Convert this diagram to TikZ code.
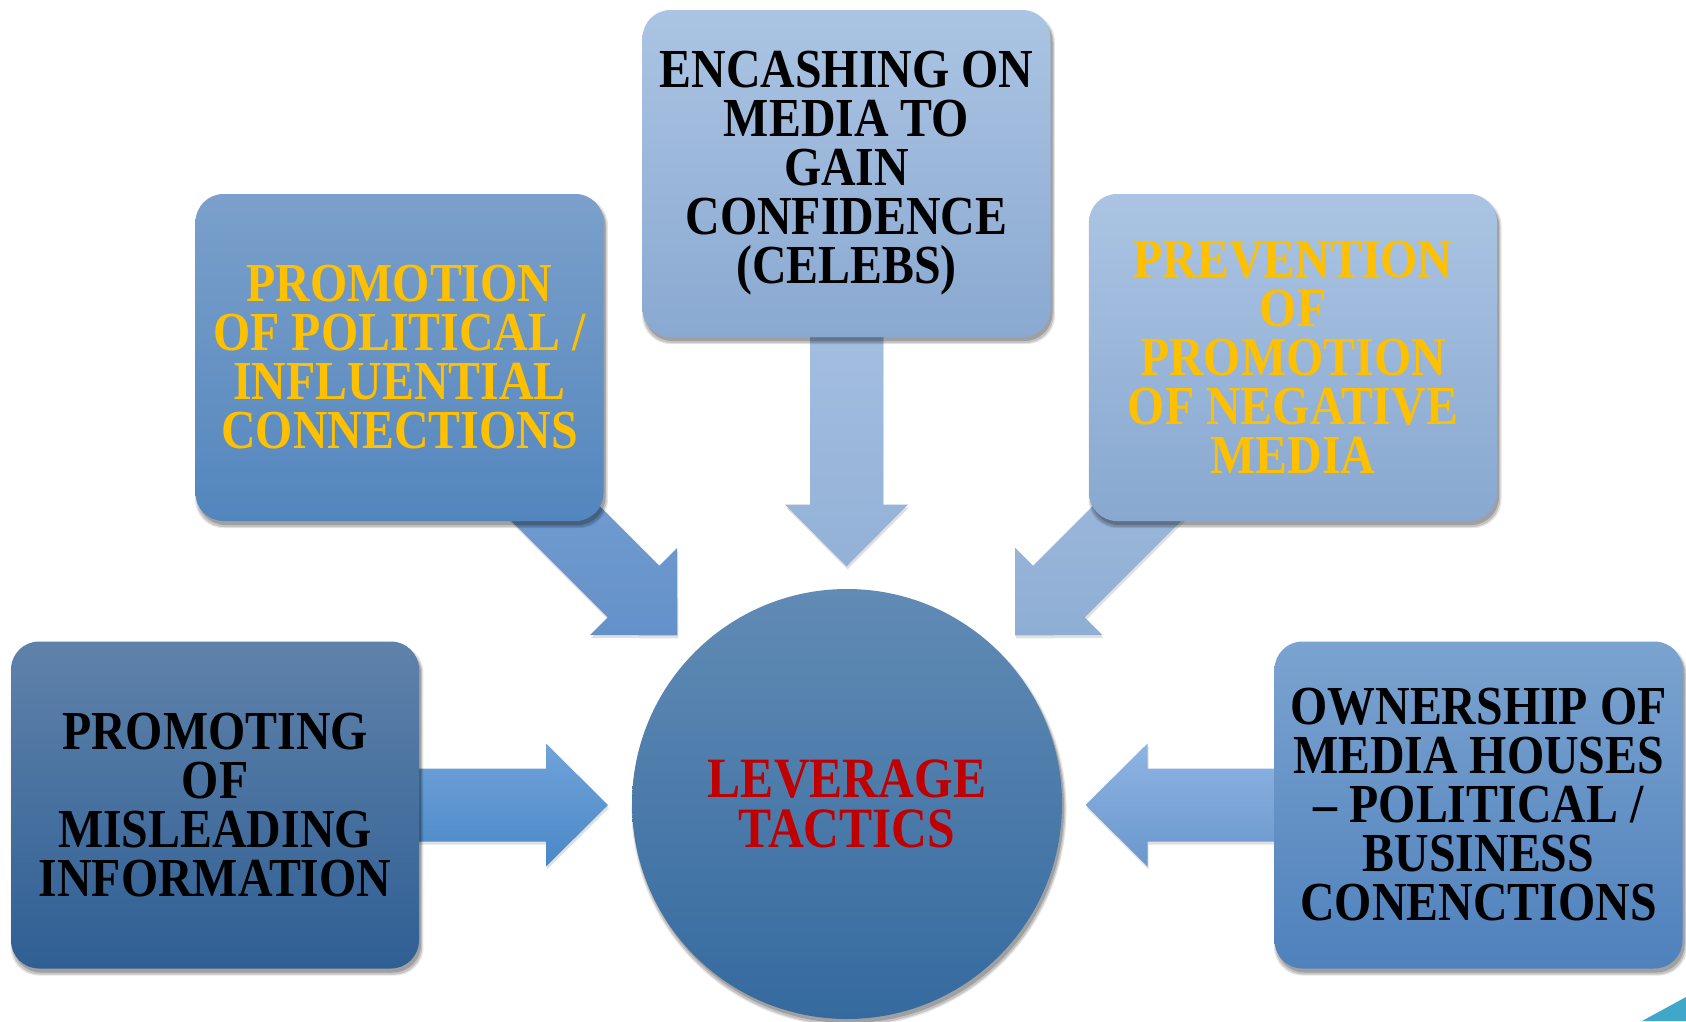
\documentclass[tikz,border=0pt]{standalone}
\usepackage{fontspec}
\newfontfamily\tnr{Liberation Serif}[FakeStretch=0.87]
\usetikzlibrary{shadows}
\pgfdeclarelayer{bg}
\pgfdeclarelayer{back}
\pgfsetlayers{bg,back,main}
\definecolor{gold}{HTML}{FFC000}
\definecolor{darkred}{HTML}{C00000}
\definecolor{teal1}{HTML}{3FA7C9}
\definecolor{lTop}{HTML}{5F82AA}\definecolor{lBot}{HTML}{2F5F94}
\definecolor{tlTop}{HTML}{7BA0CB}\definecolor{tlBot}{HTML}{5386BD}
\definecolor{tcTop}{HTML}{ABC4E3}\definecolor{tcBot}{HTML}{8AA9D1}
\definecolor{trTop}{HTML}{ABC4E3}\definecolor{trBot}{HTML}{88A8D0}
\definecolor{rTop}{HTML}{7BA3D0}\definecolor{rBot}{HTML}{4F81BC}
\definecolor{cTop}{HTML}{618BB5}\definecolor{cBot}{HTML}{356A9F}
\definecolor{aLTop}{HTML}{70A3D8}\definecolor{aLBot}{HTML}{4A88C8}
\definecolor{aRTop}{HTML}{8EB4E2}\definecolor{aRBot}{HTML}{6A97CE}
\definecolor{aTCTop}{HTML}{ADC6E6}\definecolor{aTCBot}{HTML}{93B1D7}
\definecolor{aTLTop}{HTML}{7DA8D8}\definecolor{aTLBot}{HTML}{6491C9}
\definecolor{aTRTop}{HTML}{A8C1E2}\definecolor{aTRBot}{HTML}{8FAED4}
\newcommand\myarrow[4]{%
  \begin{scope}[shift={(#1.center)}, rotate=#2]
    \path[top color=#3, bottom color=#4, arrowshadow]
      (0,-36.5) -- (331,-36.5) -- (331,-61.5) -- (393,0) -- (331,61.5) -- (331,36.5) -- (0,36.5) -- cycle;
  \end{scope}}
\begin{document}
\begin{tikzpicture}[x=1pt,y=-1pt,
  softshadow/.style={
    general shadow={shadow xshift=2pt, shadow yshift=-5pt, shadow scale=1.012, fill=black, opacity=0.10},
    general shadow={shadow xshift=2pt, shadow yshift=-5pt, shadow scale=1.006, fill=black, opacity=0.14},
    general shadow={shadow xshift=2pt, shadow yshift=-4pt, fill=black, opacity=0.18}},
  box/.style={rounded corners=28pt, minimum width=408pt, minimum height=327pt,
    inner sep=0pt, align=center, font=\tnr\bfseries\fontsize{55}{49}\selectfont, softshadow},
  hub/.style={circle, minimum size=430pt, inner sep=0pt, align=center,
    font=\tnr\bfseries\fontsize{57}{50}\selectfont, softshadow},
  arrowshadow/.style={
    general shadow={shadow xshift=1pt, shadow yshift=-3pt, fill=black, opacity=0.12}}
]
\useasboundingbox (0,0) rectangle (1686,1021);
\begin{pgfonlayer}{bg}
  \fill[white] (0,0) rectangle (1686,1021);
\end{pgfonlayer}

\node[box, top color=lTop, bottom color=lBot, text=black] (L) at (215,805)
  {PROMOTING\\OF\\MISLEADING\\INFORMATION};
\node[box, top color=tlTop, bottom color=tlBot, text=gold] (TL) at (399.5,357.5)
  {PROMOTION\\OF POLITICAL /\\INFLUENTIAL\\CONNECTIONS};
\node[box, top color=tcTop, bottom color=tcBot, text=black] (TC) at (846.5,173.5)
  {ENCASHING ON\\MEDIA TO\\GAIN\\CONFIDENCE\\(CELEBS)};
\node[box, top color=trTop, bottom color=trBot, text=gold] (TR) at (1293,357.5)
  {PREVENTION\\OF\\PROMOTION\\OF NEGATIVE\\MEDIA};
\node[box, top color=rTop, bottom color=rBot, text=black] (R) at (1478.5,805)
  {OWNERSHIP OF\\MEDIA HOUSES\\– POLITICAL /\\BUSINESS\\CONENCTIONS};
\node[hub, top color=cTop, bottom color=cBot, text=darkred] (C) at (847,804)
  {LEVERAGE\\TACTICS};

\begin{pgfonlayer}{back}
  \myarrow{L}{0}{aLTop}{aLBot}
  \myarrow{R}{180}{aRTop}{aRBot}
  \myarrow{TC}{-90}{aTCTop}{aTCBot}
  \myarrow{TL}{-45}{aTLTop}{aTLBot}
  \myarrow{TR}{-135}{aTRTop}{aTRBot}
\end{pgfonlayer}

\fill[teal1] (1642,1021) -- (1686,997) -- (1686,1021) -- cycle;
\end{tikzpicture}
\end{document}
